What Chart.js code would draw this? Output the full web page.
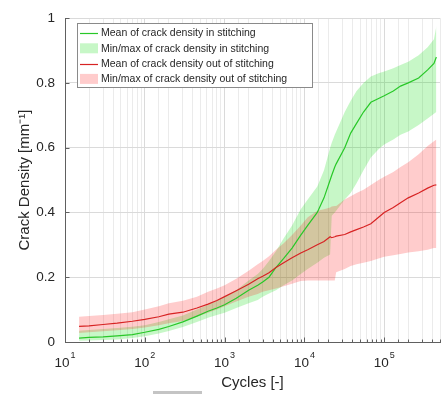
<!DOCTYPE html>
<html><head><meta charset="utf-8">
<script src="https://cdn.jsdelivr.net/npm/chart.js@4.4.1/dist/chart.umd.min.js"></script>
<style>
html,body{margin:0;padding:0;background:#fff;}
#wrap{position:relative;width:445px;height:394px;overflow:hidden;}
canvas{display:block;}
#smudge{position:absolute;left:153px;top:391px;width:49px;height:3px;background:#c4c4c4;}
</style>
</head><body>
<div id="wrap"><canvas id="c" width="445" height="394"></canvas><div id="smudge"></div></div>
<script>
// ---- data ----
const cycles = [15, 20, 30, 45, 70, 100, 150, 200, 300, 450, 620, 800, 1000, 1400, 2000, 2600, 3000, 3600, 4400, 5500, 7000, 9000, 11000, 14500, 17600, 21000, 22000, 24000, 25000, 32000, 38000, 45000, 55000, 68000, 85000, 100000, 130000, 160000, 200000, 270000, 350000, 420000, 450000];

const inMean  = [0.012,0.014,0.016,0.019,0.023,0.030,0.039,0.048,0.062,0.080,0.095,0.105,0.115,0.135,0.160,0.175,0.185,0.200,0.230,0.258,0.290,0.330,0.360,0.400,0.445,0.500,0.515,0.540,0.550,0.600,0.645,0.675,0.710,0.740,0.752,0.760,0.775,0.790,0.800,0.815,0.840,0.860,0.880];
const inMax   = [0.035,0.037,0.040,0.043,0.047,0.052,0.062,0.070,0.082,0.100,0.115,0.127,0.140,0.160,0.190,0.210,0.225,0.250,0.280,0.320,0.360,0.410,0.440,0.480,0.530,0.600,0.615,0.640,0.650,0.710,0.745,0.775,0.800,0.820,0.830,0.835,0.845,0.855,0.865,0.885,0.910,0.935,0.975];
const inMin   = [0.004,0.005,0.006,0.008,0.012,0.018,0.026,0.034,0.046,0.062,0.075,0.083,0.090,0.105,0.120,0.130,0.140,0.150,0.160,0.175,0.190,0.210,0.225,0.245,0.260,0.270,0.390,0.400,0.405,0.440,0.460,0.490,0.530,0.570,0.595,0.610,0.625,0.640,0.650,0.670,0.690,0.705,0.710];

const outMean = [0.048,0.050,0.054,0.058,0.064,0.070,0.078,0.086,0.092,0.105,0.117,0.128,0.140,0.158,0.178,0.195,0.203,0.214,0.230,0.245,0.260,0.275,0.285,0.300,0.310,0.325,0.322,0.325,0.327,0.332,0.340,0.347,0.355,0.365,0.385,0.400,0.415,0.430,0.445,0.460,0.475,0.484,0.485];
const outMax  = [0.078,0.080,0.083,0.087,0.092,0.100,0.110,0.120,0.127,0.140,0.155,0.165,0.175,0.195,0.220,0.240,0.250,0.265,0.285,0.305,0.330,0.360,0.385,0.405,0.410,0.415,0.418,0.420,0.420,0.440,0.450,0.460,0.470,0.485,0.500,0.510,0.525,0.540,0.555,0.580,0.605,0.620,0.625];
const outMin  = [0.028,0.030,0.033,0.036,0.040,0.045,0.052,0.058,0.065,0.078,0.090,0.100,0.110,0.125,0.140,0.148,0.155,0.160,0.165,0.172,0.180,0.188,0.190,0.190,0.190,0.190,0.190,0.190,0.215,0.225,0.235,0.240,0.245,0.250,0.258,0.263,0.268,0.272,0.276,0.280,0.285,0.290,0.290];

const legendLabels = [
  'Mean of crack density in stitching',
  'Min/max of crack density in stitching',
  'Mean of crack density out of stitching',
  'Min/max of crack density out of stitching'
];
const xTitle = 'Cycles [-]';
const yTitle = 'Crack Density [mm\u207B\u00B9]';

// ---- styling ----
const FONT = '"Liberation Sans", Arial, Helvetica, sans-serif';
const TXT = '#262626';
const AXIS = '#606060';
const GREEN = 'rgb(40,200,40)';
const GREEN_FILL = 'rgba(0,220,0,0.22)';
const RED = 'rgb(215,35,35)';
const RED_FILL = 'rgba(255,0,0,0.2)';

const pts = arr => cycles.map((c, i) => ({x: c, y: arr[i]}));
const isPow10 = v => { const l = Math.log10(v); return Math.abs(l - Math.round(l)) < 1e-9; };

const datasets = [
  {label: legendLabels[2], data: pts(outMean), borderColor: RED, borderWidth: 1.2, pointRadius: 0, fill: false, order: 0},
  {label: legendLabels[0], data: pts(inMean), borderColor: GREEN, borderWidth: 1.2, pointRadius: 0, fill: false, order: 1},
  {label: 'outMin', data: pts(outMin), borderWidth: 0, borderColor: 'transparent', pointRadius: 0, fill: false, order: 3},
  {label: legendLabels[3], data: pts(outMax), borderWidth: 0, borderColor: 'transparent', backgroundColor: RED_FILL, pointRadius: 0, fill: '-1', order: 2},
  {label: 'inMin', data: pts(inMin), borderWidth: 0, borderColor: 'transparent', pointRadius: 0, fill: false, order: 5},
  {label: legendLabels[1], data: pts(inMax), borderWidth: 0, borderColor: 'transparent', backgroundColor: GREEN_FILL, pointRadius: 0, fill: '-1', order: 4}
];
// legend entries: [dataset index, kind]
const legendEntries = [[1, 'line'], [5, 'patch'], [0, 'line'], [3, 'patch']];

const decor = {
  id: 'decor',
  afterDraw(chart) {
    const ctx = chart.ctx, xs = chart.scales.x, ys = chart.scales.y, a = chart.chartArea;
    ctx.save();
    // inward tick marks
    ctx.strokeStyle = AXIS; ctx.lineWidth = 1;
    xs.ticks.forEach(t => {
      const px = Math.round(xs.getPixelForValue(t.value)) + 0.5;
      const len = isPow10(t.value) ? 4.5 : 2.5;
      ctx.beginPath(); ctx.moveTo(px, a.bottom); ctx.lineTo(px, a.bottom - len); ctx.stroke();
    });
    ys.ticks.forEach(t => {
      const py = Math.round(ys.getPixelForValue(t.value)) + 0.5;
      ctx.beginPath(); ctx.moveTo(a.left, py); ctx.lineTo(a.left + 4.5, py); ctx.stroke();
    });
    // x tick labels with superscript exponents
    ctx.fillStyle = TXT; ctx.textAlign = 'left'; ctx.textBaseline = 'alphabetic';
    xs.ticks.forEach(t => {
      if (!isPow10(t.value)) return;
      const base = '10', ex = String(Math.round(Math.log10(t.value)));
      ctx.font = '13.5px ' + FONT; const wb = ctx.measureText(base).width;
      ctx.font = '9px ' + FONT; const we = ctx.measureText(ex).width;
      const px = xs.getPixelForValue(t.value);
      const x0 = px - (wb + 1 + we) / 2;
      ctx.font = '13.5px ' + FONT; ctx.fillText(base, x0, a.bottom + 25);
      ctx.font = '9px ' + FONT; ctx.fillText(ex, x0 + wb + 1, a.bottom + 16);
    });
    // legend box
    const bx = 77.5, by = 23.5, bw = 235, bh = 64;
    ctx.fillStyle = '#ffffff'; ctx.fillRect(bx, by, bw, bh);
    ctx.strokeStyle = '#8a8a8a'; ctx.lineWidth = 1; ctx.strokeRect(bx, by, bw, bh);
    ctx.font = '10.5px ' + FONT; ctx.textBaseline = 'middle';
    legendEntries.forEach(([di, kind], i) => {
      const ds = chart.data.datasets[di];
      const cy = 33 + i * 15.3;
      if (kind === 'line') {
        ctx.strokeStyle = ds.borderColor; ctx.lineWidth = 1.2;
        ctx.beginPath(); ctx.moveTo(80, Math.round(cy) + 0.5); ctx.lineTo(98, Math.round(cy) + 0.5); ctx.stroke();
      } else {
        ctx.fillStyle = ds.backgroundColor; ctx.fillRect(80, cy - 5, 18, 10);
      }
      ctx.fillStyle = TXT; ctx.fillText(ds.label, 101, cy + 0.5);
    });
    ctx.restore();
  }
};

new Chart(document.getElementById('c'), {
  type: 'line',
  data: {datasets},
  plugins: [decor],
  options: {
    responsive: false,
    animation: false,
    devicePixelRatio: 1,
    layout: {padding: {top: 12, right: 5, left: 0, bottom: 0}},
    elements: {line: {tension: 0}},
    plugins: {legend: {display: false}, tooltip: {enabled: false}, filler: {propagate: false}},
    scales: {
      x: {
        type: 'logarithmic', position: 'bottom', min: 10, max: 500000,
        afterFit: s => { s.height = 52; },
        grid: {drawTicks: false, color: c => (c.tick && isPow10(c.tick.value)) ? '#dadada' : '#ebebeb', lineWidth: 1},
        border: {display: true, color: AXIS, width: 1},
        ticks: {display: false, autoSkip: false},
        title: {display: true, text: xTitle, color: TXT, font: {size: 15, family: FONT}, padding: {top: 0, bottom: 2}}
      },
      y: {
        type: 'linear', min: 0, max: 1,
        afterFit: s => { s.width = 65; },
        grid: {drawTicks: false, color: '#dadada', lineWidth: 1},
        border: {display: true, color: AXIS, width: 1},
        ticks: {stepSize: 0.2, padding: 10, color: TXT, font: {size: 13.5, family: FONT},
                callback: v => String(Math.round(v * 10) / 10)},
        title: {display: true, text: yTitle, color: TXT, font: {size: 15, family: FONT}, padding: {top: 16, bottom: 0}}
      }
    }
  }
});
</script>
</body></html>
